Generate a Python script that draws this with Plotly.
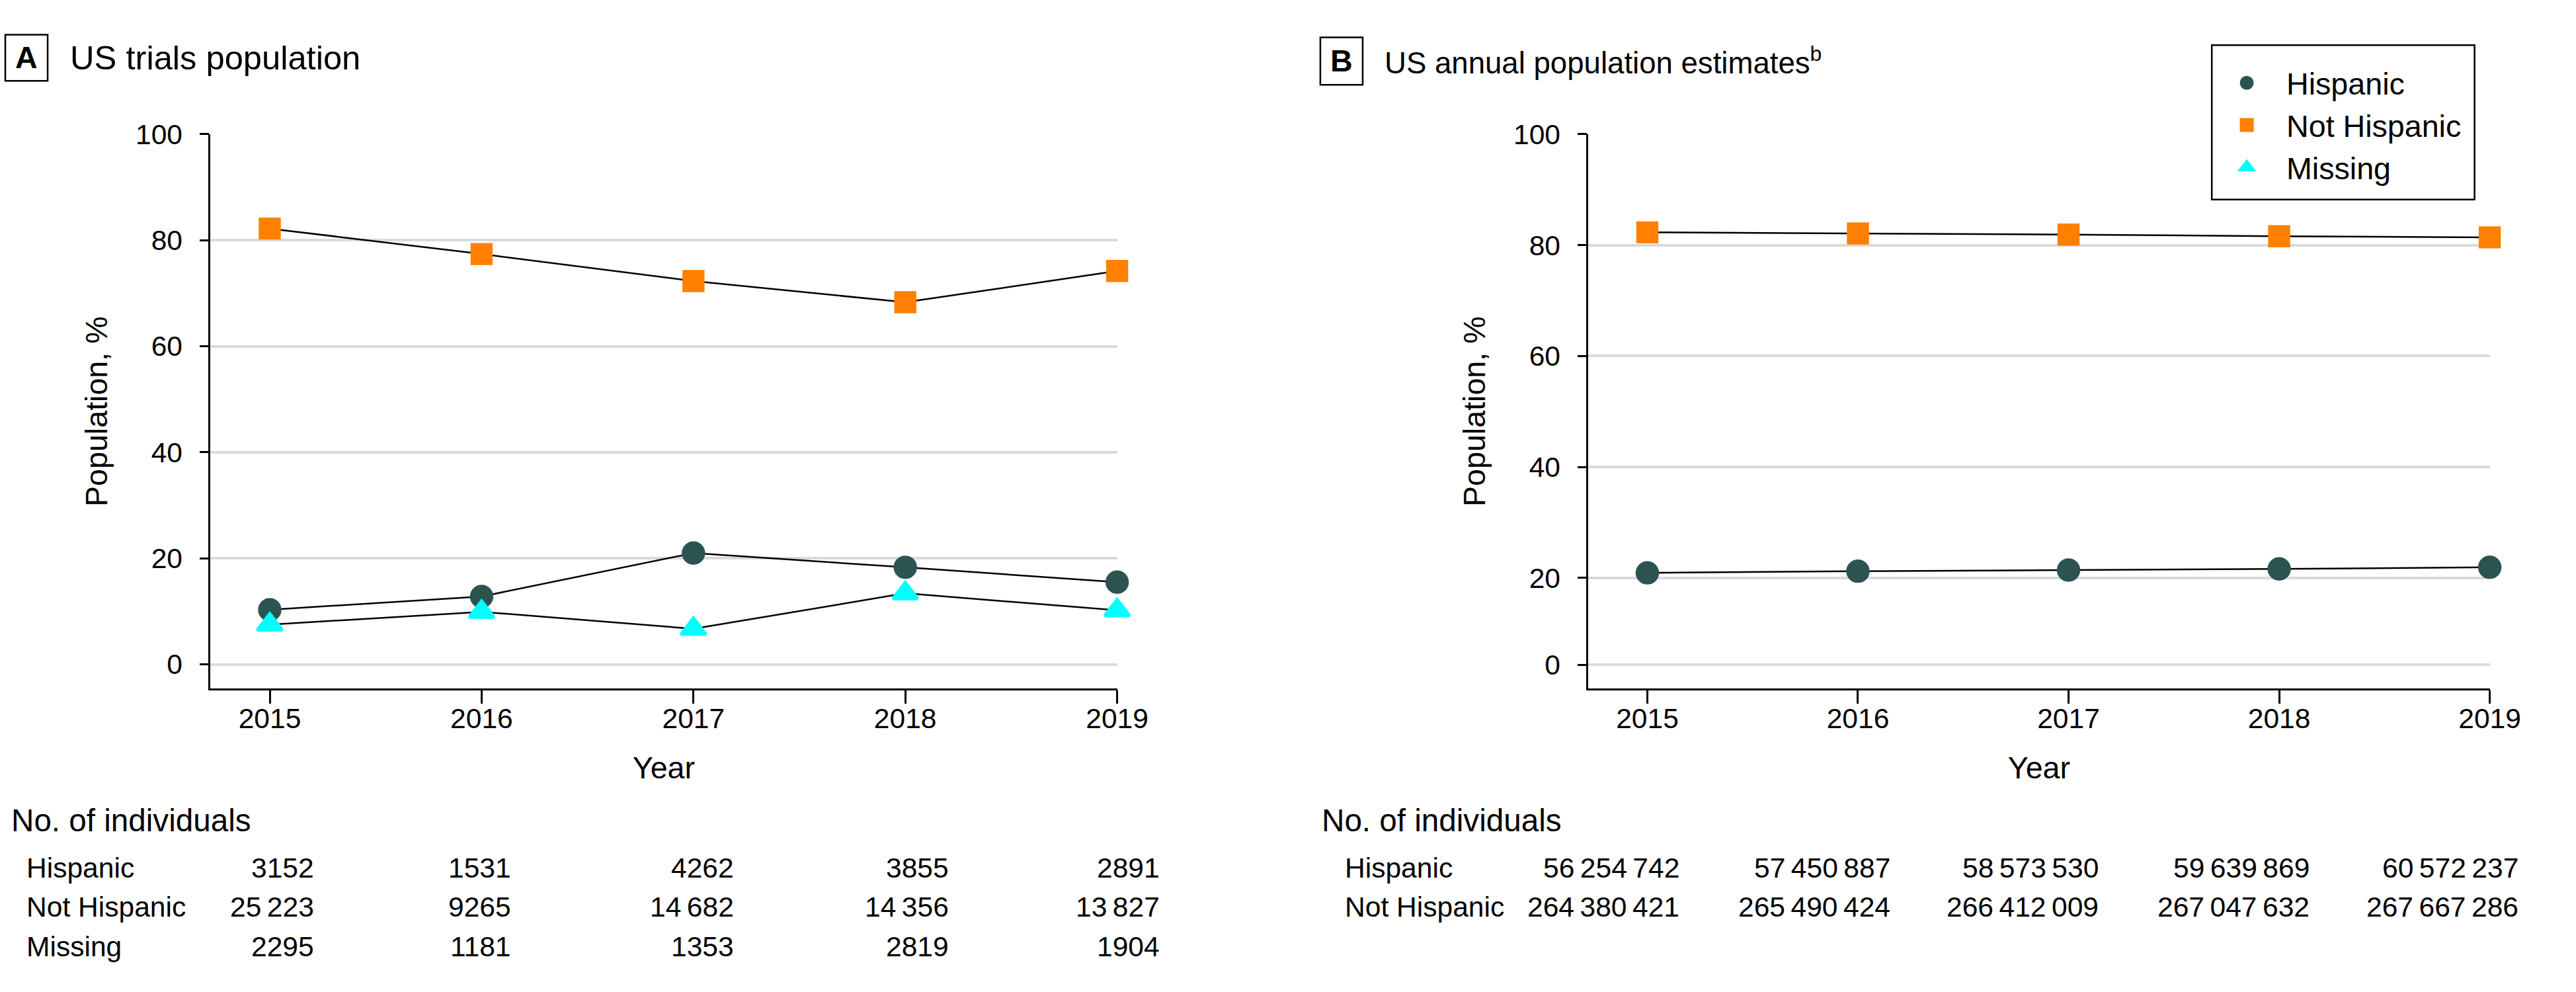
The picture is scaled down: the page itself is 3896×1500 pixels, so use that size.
import plotly.graph_objects as go

# ---------------- data ----------------
years = [2015, 2016, 2017, 2018, 2019]

# Panel A: US trials population, %
trial_hispanic_pct = [10.3, 12.8, 21.0, 18.3, 15.5]
trial_not_hispanic_pct = [82.2, 77.4, 72.3, 68.3, 74.2]
trial_missing_pct = [7.5, 9.9, 6.7, 13.4, 10.2]

# Panel B: US annual population estimates, %
census_hispanic_pct = [20.9, 21.2, 21.4, 21.6, 21.9]
census_not_hispanic_pct = [82.3, 82.1, 81.9, 81.6, 81.4]

# No. of individuals tables
trial_hispanic_n = [3152, 1531, 4262, 3855, 2891]
trial_not_hispanic_n = [25223, 9265, 14682, 14356, 13827]
trial_missing_n = [2295, 1181, 1353, 2819, 1904]

census_hispanic_n = [56254742, 57450887, 58573530, 59639869, 60572237]
census_not_hispanic_n = [264380421, 265490424, 266412009, 267047632, 267667286]

y_ticks = [0, 20, 40, 60, 80, 100]
y_tick_labels = ["0", "20", "40", "60", "80", "100"]

# ---------------- styling ----------------
W, H = 3896, 1500
S = 0.987          # the captured page comes out slightly reduced (bottom-left anchored)
K = 1 / S
FONT = "Liberation Sans, Arial, sans-serif"
C_HISP = "#2b5451"
C_NOT = "#ff8000"
C_MISS = "#00ffff"
GRID = "#dadada"
OUTLINE = 5

def fx(rx):
    """target x (px in the reference frame) -> paper fraction"""
    return rx / S / W

def fy(ry):
    """target y (px from top in the reference frame) -> paper fraction"""
    return (H - ry) / (S * H)

def fs(v):
    return round(v * K, 2)

def fmt(n):
    if n < 10000:
        return str(n)
    return f"{n:,}".replace(",", "\u2009")

fig = go.Figure()

series = [
    ("x", "y", trial_hispanic_pct, "Hispanic", C_HISP, "circle", 30, True),
    ("x", "y", trial_not_hispanic_pct, "Not Hispanic", C_NOT, "square", 28, True),
    ("x", "y", trial_missing_pct, "Missing", C_MISS, "triangle-up", 32, True),
    ("x2", "y2", census_hispanic_pct, "Hispanic", C_HISP, "circle", 30, False),
    ("x2", "y2", census_not_hispanic_pct, "Not Hispanic", C_NOT, "square", 28, False),
]

# connecting lines (behind all markers)
for xa, ya, y, name, color, symbol, size, leg in series:
    fig.add_trace(go.Scatter(
        x=years, y=y, mode="lines", line=dict(color="black", width=2.5),
        xaxis=xa, yaxis=ya, showlegend=False, hoverinfo="skip", cliponaxis=False,
    ))
# markers
rank = {"Hispanic": 1, "Not Hispanic": 2, "Missing": 3}
for xa, ya, y, name, color, symbol, size, leg in series:
    fig.add_trace(go.Scatter(
        x=years, y=y, name=name, mode="markers",
        marker=dict(color=color, symbol=symbol, size=fs(size),
                    line=dict(color=color, width=OUTLINE)),
        xaxis=xa, yaxis=ya, cliponaxis=False, showlegend=leg, legendrank=rank[name],
    ))

xaxis_common = dict(
    range=[2014.72, 2019], tickvals=years, ticktext=[str(v) for v in years],
    showgrid=False, zeroline=False, showline=True, linecolor="black", linewidth=2.5,
    ticks="outside", ticklen=20, tickwidth=2.5, tickcolor="black",
    tickfont=dict(size=fs(42), color="black", family=FONT), ticklabelstandoff=-14,
    title=dict(text="Year", font=dict(size=fs(46), color="black", family=FONT), standoff=36),
)
yaxis_common = dict(
    showgrid=True, gridcolor=GRID, gridwidth=4, zeroline=False,
    showline=True, linecolor="black", linewidth=2.5,
    ticks="outside", ticklen=14, tickwidth=2.5, tickcolor="black",
    tickfont=dict(size=fs(42), color="black", family=FONT), ticklabelstandoff=17,
    title=dict(text="Population, %", font=dict(size=fs(46), color="black", family=FONT), standoff=28),
)

dom_y = [fy(1040), fy(199)]
fig.update_layout(
    width=W, height=H, margin=dict(l=0, r=0, t=0, b=0),
    paper_bgcolor="white", plot_bgcolor="white",
    font=dict(family=FONT, color="black"),
    xaxis=dict(domain=[fx(318), fx(1688)], anchor="y", **xaxis_common),
    yaxis=dict(domain=dom_y, anchor="x", range=[-4.6, 100], tickvals=y_ticks,
               ticktext=y_tick_labels, **yaxis_common),
    xaxis2=dict(domain=[fx(2400), fx(3762)], anchor="y2", **xaxis_common),
    yaxis2=dict(domain=dom_y, anchor="x2", range=[0, 100],
                tickvals=[4.3] + y_ticks[1:], ticktext=y_tick_labels, **yaxis_common),
    legend=dict(
        x=fx(3402) - 68 / W, y=fy(185), xanchor="left", yanchor="middle",
        bgcolor="rgba(0,0,0,0)", borderwidth=0,
        font=dict(size=fs(46), color="black", family=FONT),
        itemwidth=110, tracegroupgap=0,
    ),
    showlegend=True,
)

shapes = []
annotations = []

# legend frame
shapes.append(dict(type="rect", xref="paper", yref="paper",
                   x0=fx(3342), x1=fx(3739), y0=fy(298), y1=fy(64),
                   line=dict(color="black", width=2.5), fillcolor="rgba(0,0,0,0)", layer="above"))

# panel titles
panels = [
    dict(letter="A", box=(8, 72, 48, 118), text="US trials population", tx=104, size=50),
    dict(letter="B", box=(1995, 2059, 52, 124), text="US annual population estimates<sup>b</sup>", tx=2090, size=45),
]
for p in panels:
    x0, x1, y0, y1 = p["box"]
    shapes.append(dict(type="rect", xref="paper", yref="paper",
                       x0=fx(x0), x1=fx(x1), y0=fy(y1), y1=fy(y0),
                       line=dict(color="black", width=2.5)))
    cy = (y0 + y1) / 2
    annotations.append(dict(xref="paper", yref="paper", x=fx((x0 + x1) / 2), y=fy(cy),
                            text=f"<b>{p['letter']}</b>", showarrow=False,
                            xanchor="center", yanchor="middle",
                            font=dict(size=fs(46), color="black", family=FONT)))
    annotations.append(dict(xref="paper", yref="paper", x=fx(p["tx"]), y=fy(cy),
                            text=p["text"], showarrow=False, xanchor="left", yanchor="middle",
                            font=dict(size=fs(p["size"]), color="black", family=FONT)))

# tables
HEADER_Y = 1240
ROW_Y = [1311, 1371, 1431]
tables = [
    dict(xref="x", hx=15, lx=38, shifts=[68, 46, 62, 67, 66],
         rows=[("Hispanic", trial_hispanic_n), ("Not Hispanic", trial_not_hispanic_n),
               ("Missing", trial_missing_n)]),
    dict(xref="x2", hx=1995, lx=2030, shifts=[50, 50, 47, 47, 45],
         rows=[("Hispanic", census_hispanic_n), ("Not Hispanic", census_not_hispanic_n)]),
]
for t in tables:
    annotations.append(dict(xref="paper", yref="paper", x=fx(t["hx"]), y=fy(HEADER_Y),
                            text="No. of individuals", showarrow=False,
                            xanchor="left", yanchor="middle",
                            font=dict(size=fs(47), color="black", family=FONT)))
    for (label, vals), ry in zip(t["rows"], ROW_Y):
        annotations.append(dict(xref="paper", yref="paper", x=fx(t["lx"]), y=fy(ry),
                                text=label, showarrow=False, xanchor="left", yanchor="middle",
                                font=dict(size=fs(42), color="black", family=FONT)))
        for yr, v, sh in zip(years, vals, t["shifts"]):
            annotations.append(dict(xref=t["xref"], yref="paper", x=yr, y=fy(ry),
                                    xshift=sh * K, text=fmt(v), showarrow=False,
                                    xanchor="right", yanchor="middle",
                                    font=dict(size=fs(42), color="black", family=FONT)))

fig.update_layout(shapes=shapes, annotations=annotations)

PIN_PAGE = (
    "var d=document.getElementById('{plot_id}');"
    "document.documentElement.style.margin='0';document.documentElement.style.padding='0';"
    "document.documentElement.style.overflow='hidden';"
    "document.body.style.margin='0';document.body.style.padding='0';"
    "document.body.style.overflow='hidden';"
    "d.style.position='absolute';d.style.left='0px';d.style.top='0px';"
)
fig.write_html("out.html", config={"displayModeBar": False}, post_script=PIN_PAGE)
